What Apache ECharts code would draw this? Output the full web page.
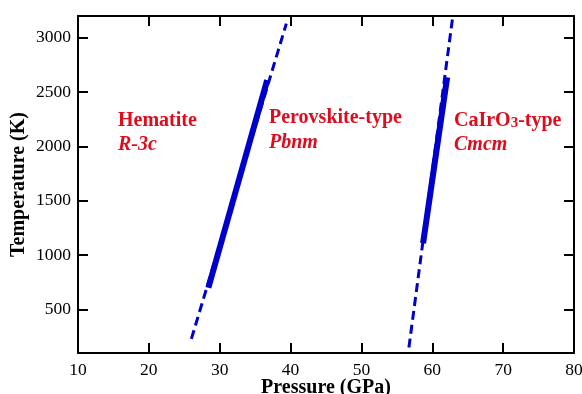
<!DOCTYPE html>
<html>
<head>
<meta charset="utf-8">
<script src="https://cdn.jsdelivr.net/npm/echarts@6/dist/echarts.min.js"></script>
<style>
  html, body { margin: 0; padding: 0; background: #fff; }
  #chart { width: 582px; height: 394px; }
</style>
</head>
<body>
<div id="chart"></div>
<script>
  // phase boundaries, pressure (GPa) vs temperature (K)
  const perovDash = [[26.0, 230], [39.4, 3130]];
  const perovSolid = [[28.4, 700], [36.7, 2610]];
  const cairDash = [[56.7, 150], [62.9, 3200]];
  const cairSolid = [[58.7, 1110], [62.1, 2635]];

  const xTicks = [20, 30, 40, 50, 60, 70];
  const yTicks = [500, 1000, 1500, 2000, 2500, 3000];

  const serif = "'Liberation Serif', 'Times New Roman', serif";
  const blue = '#0000cc';
  const red = '#e00b1c';

  let myChart = echarts.init(document.getElementById('chart'));

  const axisLine = { show: true, onZero: false, lineStyle: { color: '#000', width: 2 } };
  const tick = (vals) => ({
    show: true, inside: true, length: 10, customValues: vals,
    lineStyle: { color: '#000', width: 2 }
  });
  const plain = (v) => String(v);

  let options = {
    animation: false,
    backgroundColor: '#fff',
    grid: { left: 78, right: 8, top: 16, bottom: 41, containLabel: false, outerBoundsMode: 'none' },
    xAxis: [{
      type: 'value', min: 10, max: 80, interval: 10,
      position: 'bottom',
      name: 'Pressure (GPa)', nameLocation: 'middle', nameGap: 25, nameMoveOverlap: false,
      nameTextStyle: { fontFamily: serif, fontWeight: 'bold', fontSize: 20, color: '#000' },
      axisLine: axisLine,
      axisTick: tick(xTicks),
      axisLabel: { margin: 8, formatter: plain, fontFamily: serif, fontSize: 17.5, color: '#000' },
      splitLine: { show: false }
    }, {
      type: 'value', min: 10, max: 80, interval: 10,
      position: 'top',
      axisLine: axisLine,
      axisTick: tick(xTicks),
      axisLabel: { show: false },
      splitLine: { show: false }
    }],
    yAxis: [{
      type: 'value', min: 100, max: 3200,
      position: 'left',
      name: 'Temperature (K)', nameLocation: 'middle', nameGap: 49, nameMoveOverlap: false,
      nameTextStyle: { fontFamily: serif, fontWeight: 'bold', fontSize: 20, color: '#000' },
      axisLine: axisLine,
      axisTick: tick(yTicks),
      axisLabel: { margin: 7, customValues: yTicks, formatter: plain, fontFamily: serif, fontSize: 17.5, color: '#000' },
      splitLine: { show: false }
    }, {
      type: 'value', min: 100, max: 3200,
      position: 'right',
      axisLine: axisLine,
      axisTick: tick(yTicks),
      axisLabel: { show: false },
      splitLine: { show: false }
    }],
    series: [{
      type: 'line', symbol: 'none', data: perovDash,
      lineStyle: { color: blue, width: 3, type: [9, 5] }
    }, {
      type: 'line', symbol: 'none', data: perovSolid,
      lineStyle: { color: blue, width: 6 }
    }, {
      type: 'line', symbol: 'none', data: cairDash,
      lineStyle: { color: blue, width: 3, type: [9, 5] }
    }, {
      type: 'line', symbol: 'none', data: cairSolid,
      lineStyle: { color: blue, width: 6 }
    }],
    graphic: [
      { type: 'text', x: 118, y: 120.5, style: { text: 'Hematite', font: 'bold 20px ' + serif, fill: red, verticalAlign: 'middle' } },
      { type: 'text', x: 118, y: 145, style: { text: 'R-3c', font: 'italic bold 20px ' + serif, fill: red, verticalAlign: 'middle' } },
      { type: 'text', x: 269, y: 118.3, style: { text: 'Perovskite-type', font: 'bold 20px ' + serif, fill: red, verticalAlign: 'middle' } },
      { type: 'text', x: 269, y: 142.5, style: { text: 'Pbnm', font: 'italic bold 20px ' + serif, fill: red, verticalAlign: 'middle' } },
      { type: 'text', x: 454, y: 120.5, style: {
          text: '{a|CaIrO}{s|3}{a|-type}', verticalAlign: 'middle', fill: red,
          rich: {
            a: { fontFamily: serif, fontWeight: 'bold', fontSize: 20, lineHeight: 20, fill: red },
            s: { fontFamily: serif, fontWeight: 'bold', fontSize: 15, lineHeight: 16.6, verticalAlign: 'bottom', fill: red }
          }
        } },
      { type: 'text', x: 454, y: 145, style: { text: 'Cmcm', font: 'italic bold 20px ' + serif, fill: red, verticalAlign: 'middle' } }
    ]
  };

  myChart.setOption(options);
</script>
</body>
</html>
